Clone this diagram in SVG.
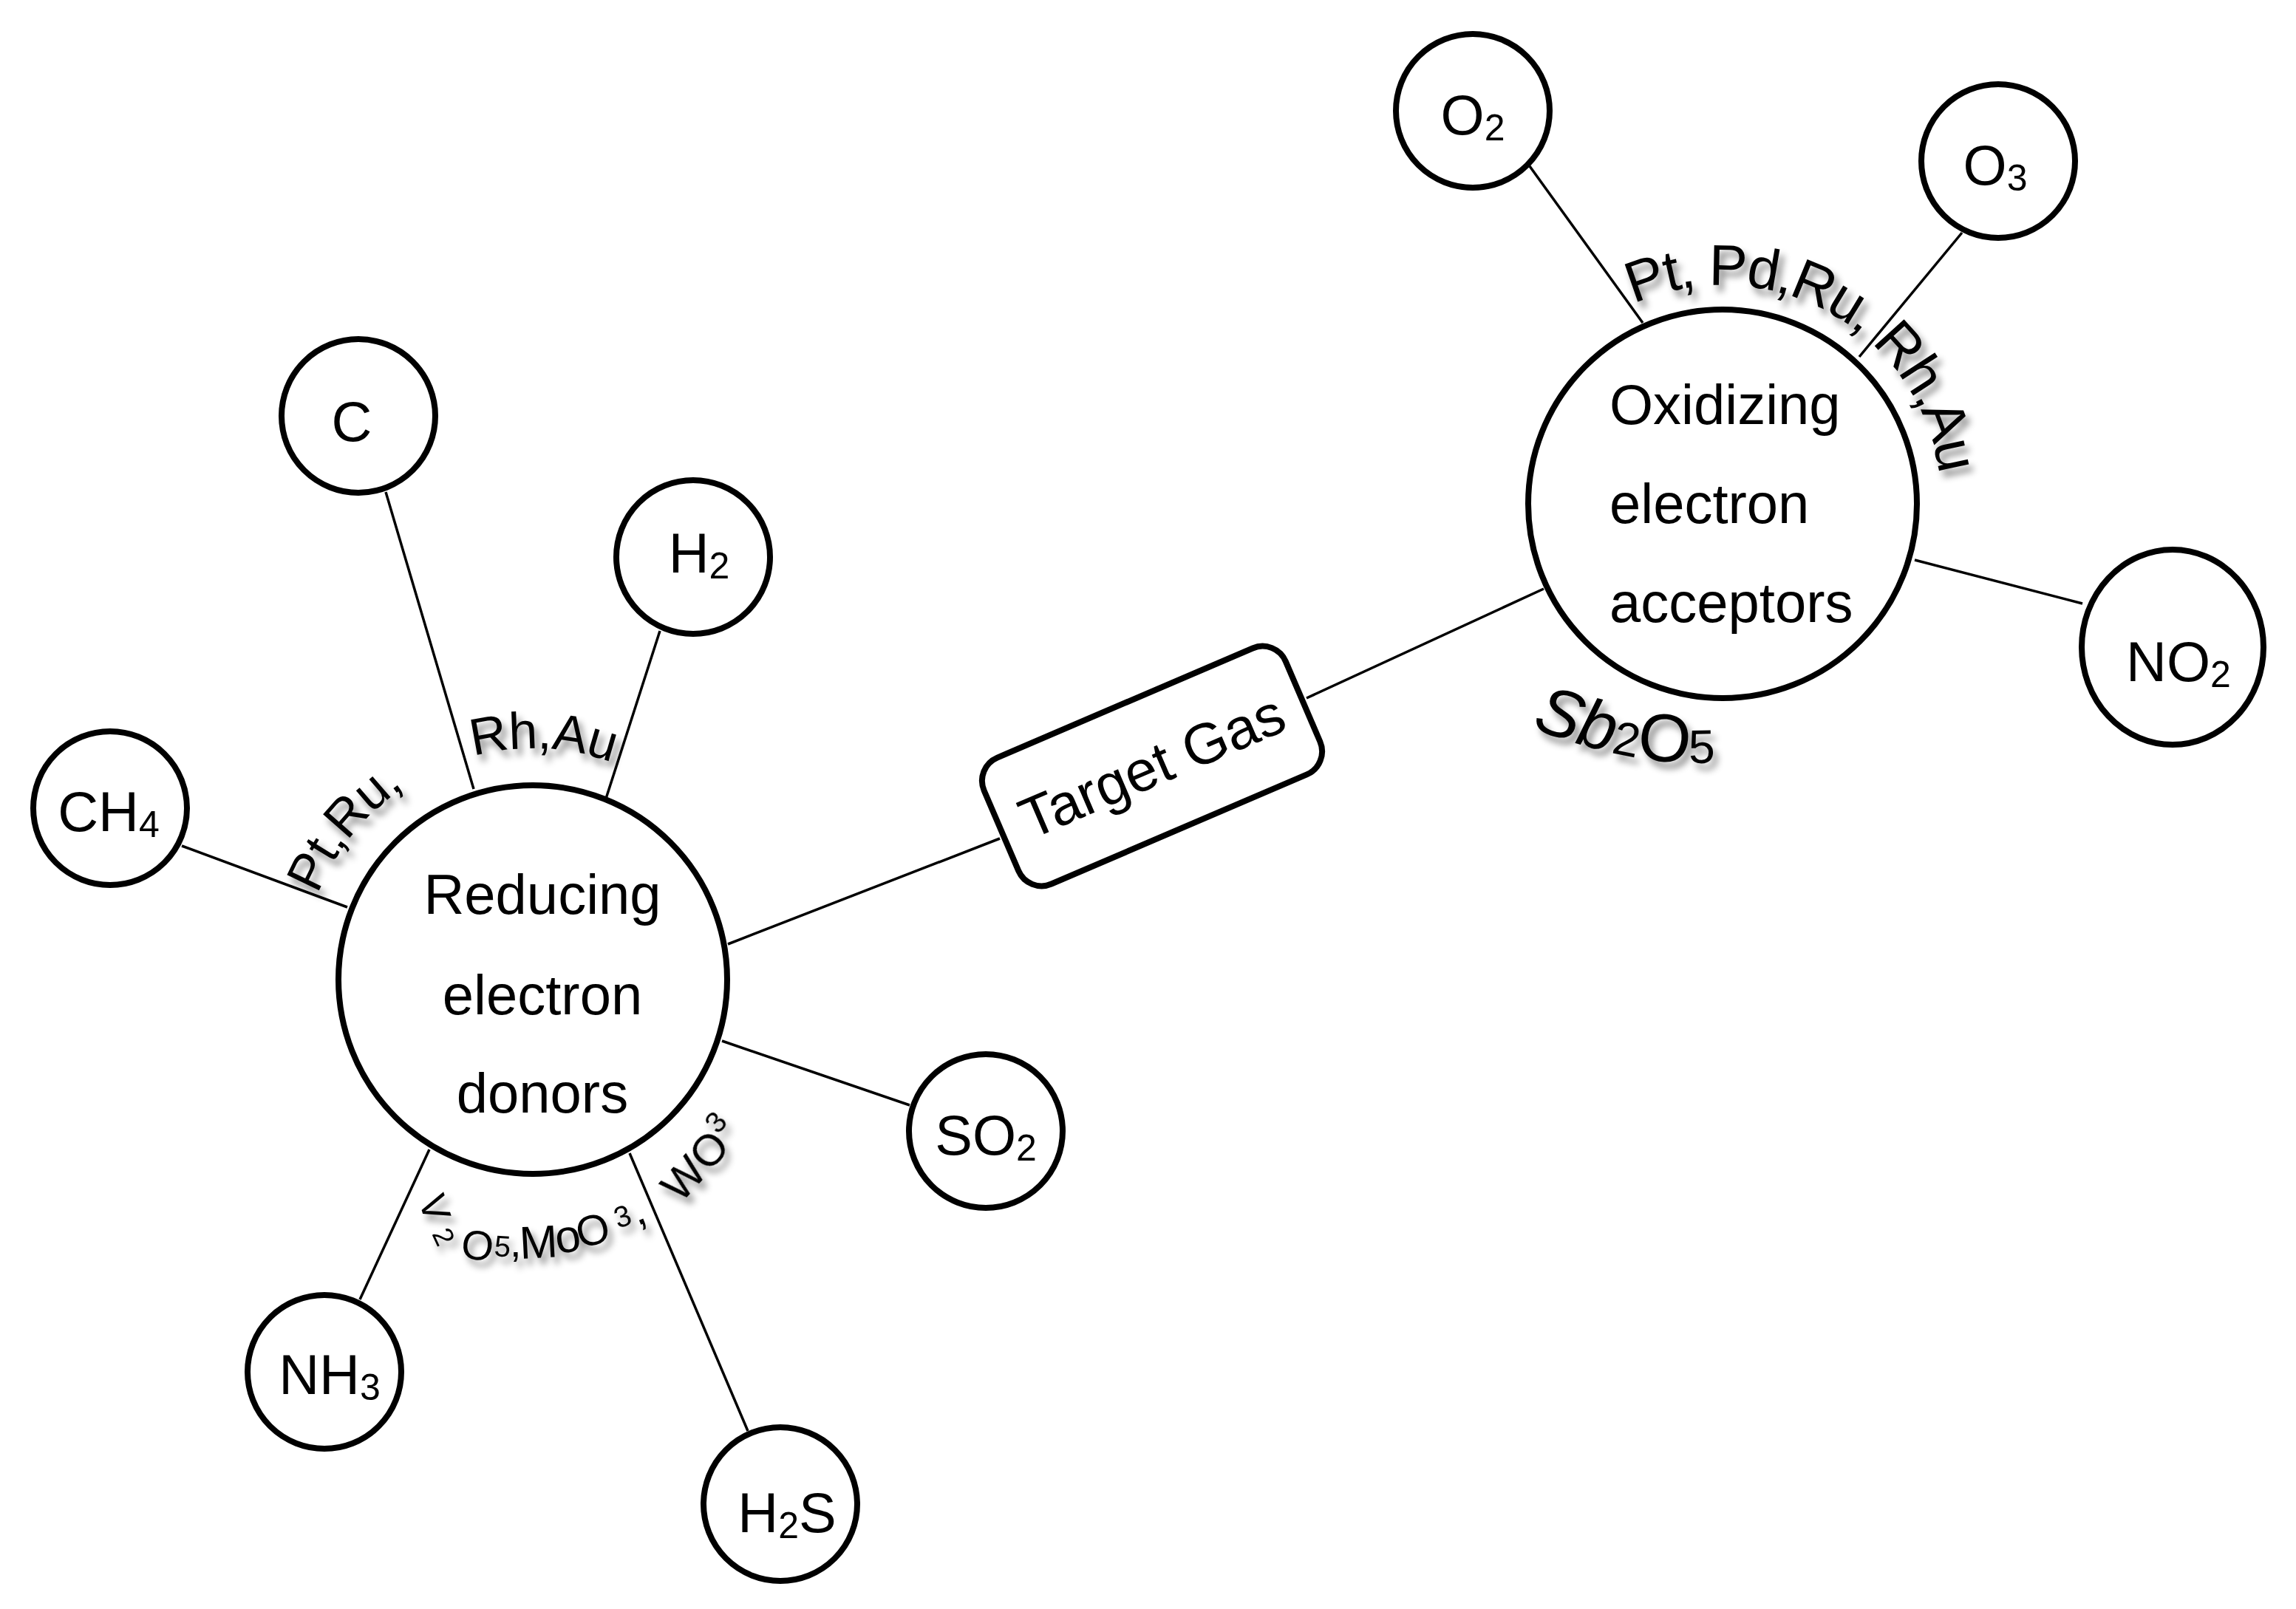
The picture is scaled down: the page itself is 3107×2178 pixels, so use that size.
<svg xmlns="http://www.w3.org/2000/svg" xmlns:xlink="http://www.w3.org/1999/xlink" width="3107" height="2178" viewBox="0 0 3107 2178">
<style>
.bg{fill:#fff}
.node{fill:#fff;stroke:#000;stroke-width:8}
.conn{stroke:#000;stroke-width:3.5;fill:none}
.lbl{font-family:"Liberation Sans",Arial,sans-serif;font-size:76px;fill:#000}
.mid{text-anchor:middle}
.sub{font-size:50px}
.cat{font-family:"Liberation Sans",Arial,sans-serif;fill:#000}
</style>
<defs>
<filter id="sh" x="-30%" y="-30%" width="170%" height="170%">
<feGaussianBlur in="SourceAlpha" stdDeviation="5" result="bl"/>
<feOffset in="bl" dx="6" dy="9" result="of"/>
<feFlood flood-color="#000" flood-opacity="0.45"/>
<feComposite in2="of" operator="in"/>
<feMerge><feMergeNode/><feMergeNode in="SourceGraphic"/></feMerge>
</filter>
<path id="arcR" d="M408,1326 A313,313 0 0 1 1034,1326"/>
<path id="arcO" d="M2035,682 A296,296 0 1 1 2587.3,830"/>
<path id="pathSb" d="M2072,985 Q2230,1045 2340,1030"/>
</defs>
<rect class="bg" x="0" y="0" width="3107" height="2178"/>
<g id="connectors">
<line class="conn" x1="522" y1="666" x2="641" y2="1068"/>
<line class="conn" x1="893" y1="854" x2="819" y2="1084"/>
<line class="conn" x1="246" y1="1145" x2="470" y2="1228"/>
<line class="conn" x1="977" y1="1409" x2="1231" y2="1496"/>
<line class="conn" x1="581" y1="1556" x2="487" y2="1759"/>
<line class="conn" x1="852" y1="1561" x2="1012" y2="1937"/>
<line class="conn" x1="985" y1="1278" x2="1353" y2="1135"/>
<line class="conn" x1="1768" y1="945" x2="2089" y2="797"/>
<line class="conn" x1="2070" y1="225" x2="2223" y2="437"/>
<line class="conn" x1="2655" y1="315" x2="2516" y2="483"/>
<line class="conn" x1="2591" y1="758" x2="2818" y2="817"/>
</g>
<g id="node-C"><circle class="node" cx="485" cy="563" r="104"/><text class="lbl mid" x="476" y="597">C</text></g>
<g id="node-H2"><circle class="node" cx="938" cy="754" r="104"/><text class="lbl mid" x="946" y="775">H<tspan class="sub" dy="8">2</tspan></text></g>
<g id="node-CH4"><circle class="node" cx="149" cy="1094" r="104"/><text class="lbl mid" x="147" y="1125">CH<tspan class="sub" dy="8">4</tspan></text></g>
<g id="node-reducing"><circle class="node" cx="721" cy="1326" r="263"/>
<text class="lbl mid" x="734" y="1237">Reducing</text>
<text class="lbl mid" x="734" y="1373">electron</text>
<text class="lbl mid" x="734" y="1506">donors</text></g>
<g id="node-SO2"><circle class="node" cx="1334" cy="1531" r="104"/><text class="lbl mid" x="1334" y="1563">SO<tspan class="sub" dy="8">2</tspan></text></g>
<g id="node-NH3"><circle class="node" cx="439" cy="1857" r="104"/><text class="lbl mid" x="446" y="1887">NH<tspan class="sub" dy="8">3</tspan></text></g>
<g id="node-H2S"><circle class="node" cx="1056" cy="2036" r="104"/><text class="lbl mid" x="1065" y="2074">H<tspan class="sub" dy="8">2</tspan><tspan dy="-8">S</tspan></text></g>
<g id="node-target" transform="translate(1559,1037) rotate(-23.2)"><rect class="node" x="-222" y="-93" width="444" height="186" rx="34"/><text class="lbl mid" x="0" y="27" style="font-size:78px">Target Gas</text></g>
<g id="node-oxidizing"><circle class="node" cx="2331" cy="682" r="263"/>
<text class="lbl" x="2178" y="574">Oxidizing</text>
<text class="lbl" x="2178" y="708">electron</text>
<text class="lbl" x="2178" y="842">acceptors</text></g>
<g id="node-O2"><circle class="node" cx="1993" cy="150" r="104"/><text class="lbl mid" x="1993" y="182">O<tspan class="sub" dy="8">2</tspan></text></g>
<g id="node-O3"><circle class="node" cx="2704" cy="218" r="104"/><text class="lbl mid" x="2700" y="250">O<tspan class="sub" dy="8">3</tspan></text></g>
<g id="node-NO2"><ellipse class="node" cx="2940" cy="876" rx="123" ry="132"/><text class="lbl mid" x="2948" y="922">NO<tspan class="sub" dy="8">2</tspan></text></g>
<g id="catalyst-labels" filter="url(#sh)">
<text class="cat" style="font-size:70px;letter-spacing:-1px"><textPath xlink:href="#arcR" href="#arcR" startOffset="118">Pt,Ru,</textPath></text>
<text class="cat" style="font-size:70px;letter-spacing:-1px"><textPath xlink:href="#arcR" href="#arcR" startOffset="410">Rh,Au</textPath></text>
<text class="cat" style="font-size:62px" rotate="72 65 8 4 0 -3 -8 -14 -18 -22"><tspan x="566" y="1624" font-size="52">V</tspan><tspan x="584" y="1670" font-size="38">2</tspan><tspan x="622" y="1702" font-size="56">O</tspan><tspan x="668" y="1700" font-size="40">5</tspan><tspan x="690" y="1701" font-size="56">,</tspan><tspan x="704" y="1704">M</tspan><tspan x="754" y="1697">o</tspan><tspan x="785" y="1690" font-size="58">O</tspan><tspan x="836" y="1663" font-size="40">3</tspan><tspan x="862" y="1660">,</tspan></text>
<text class="cat" style="font-size:60px" transform="translate(921,1630) rotate(-48)">WO<tspan font-size="40" dy="-25">3</tspan></text>
<text class="cat" style="font-size:78px;letter-spacing:-3px"><textPath xlink:href="#arcO" href="#arcO" startOffset="341">Pt, Pd,Ru, Rh,Au</textPath></text>
<text class="cat" style="font-size:92px"><textPath xlink:href="#pathSb" href="#pathSb" startOffset="0"><tspan font-style="italic">Sb</tspan><tspan font-size="64">2</tspan>O<tspan font-size="64">5</tspan></textPath></text>
</g>
</svg>
